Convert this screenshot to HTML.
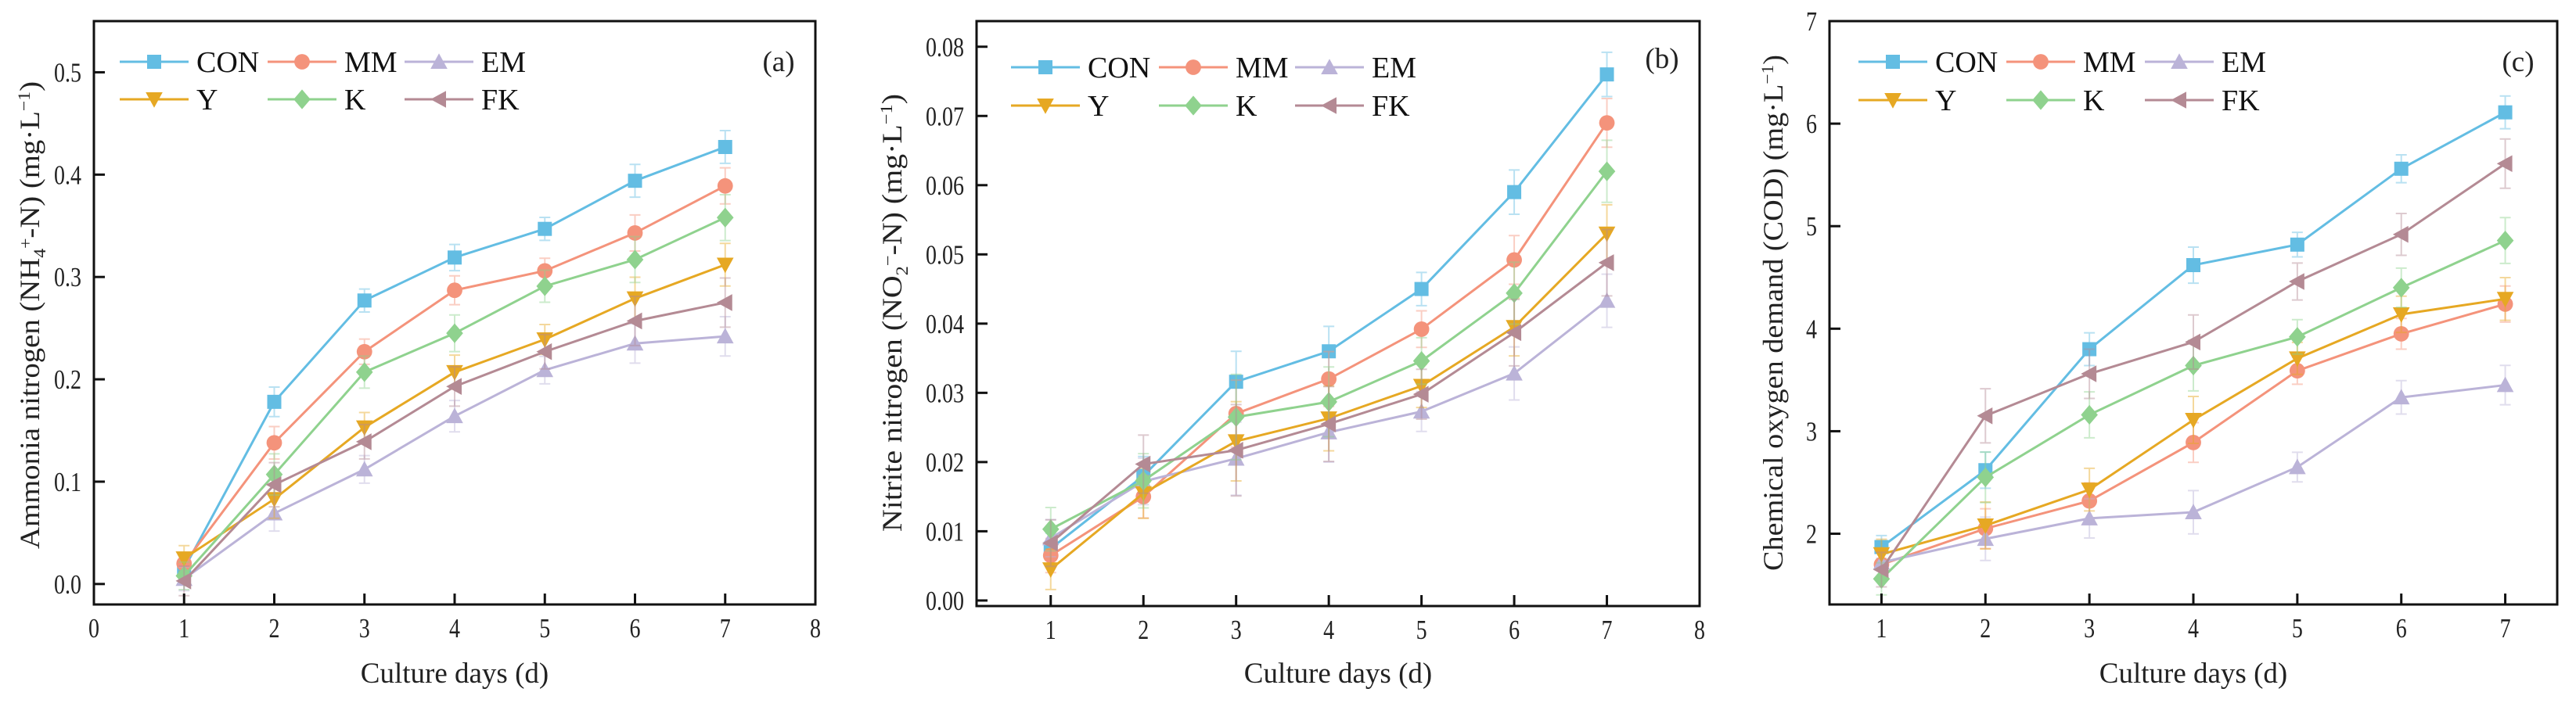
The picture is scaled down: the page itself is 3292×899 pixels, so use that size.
<!DOCTYPE html>
<html><head><meta charset="utf-8">
<style>
html,body{margin:0;padding:0;background:#fff;}
svg{display:block;font-family:"Liberation Serif",serif;}
</style></head>
<body>
<svg id="fig" width="3292" height="899" viewBox="0 0 3292 899" xmlns="http://www.w3.org/2000/svg"></svg>
<script>
const days = [1,2,3,4,5,6,7];
const seriesNames = ["CON","MM","EM","Y","K","FK"];
// Panel (a) ammonia nitrogen
const aCON = [0.015,0.178,0.277,0.319,0.347,0.394,0.427];
const aMM  = [0.020,0.138,0.227,0.287,0.306,0.343,0.389];
const aEM  = [0.005,0.069,0.112,0.164,0.209,0.235,0.242];
const aY   = [0.025,0.083,0.153,0.207,0.239,0.279,0.312];
const aK   = [0.008,0.107,0.207,0.245,0.291,0.317,0.358];
const aFK  = [0.003,0.097,0.139,0.193,0.227,0.257,0.275];
const aErr = [0.012,0.018,0.014,0.016,0.014,0.020,0.020];
const aTicks = ["0.0","0.1","0.2","0.3","0.4","0.5"];
const aXTicks = ["0","1","2","3","4","5","6","7","8"];
// Panel (b) nitrite nitrogen
const bCON = [0.0075,0.0180,0.0316,0.0360,0.0450,0.0590,0.0760];
const bMM  = [0.0065,0.0150,0.0270,0.0320,0.0392,0.0492,0.0690];
const bEM  = [0.0090,0.0172,0.0205,0.0243,0.0273,0.0328,0.0433];
const bY   = [0.0045,0.0155,0.0230,0.0263,0.0310,0.0395,0.0530];
const bK   = [0.0103,0.0173,0.0265,0.0287,0.0346,0.0444,0.0620];
const bFK  = [0.0083,0.0197,0.0217,0.0255,0.0298,0.0387,0.0488];
const bErr = [0.0028,0.0035,0.0055,0.0045,0.0030,0.0040,0.0040];
const bTicks = ["0.00","0.01","0.02","0.03","0.04","0.05","0.06","0.07","0.08"];
const bXTicks = ["1","2","3","4","5","6","7","8"];
// Panel (c) COD
const cCON = [1.87,2.62,3.80,4.62,4.82,5.56,6.11];
const cMM  = [1.70,2.05,2.32,2.89,3.59,3.95,4.24];
const cEM  = [1.72,1.95,2.15,2.21,2.65,3.33,3.45];
const cY   = [1.80,2.08,2.43,3.11,3.71,4.14,4.29];
const cK   = [1.56,2.55,3.16,3.64,3.92,4.40,4.86];
const cFK  = [1.65,3.15,3.56,3.87,4.46,4.92,5.61];
const cErr = [0.14,0.22,0.20,0.22,0.15,0.17,0.20];
const cTicks = ["2","3","4","5","6","7"];
const cXTicks = ["1","2","3","4","5","6","7"];

const colors = {CON:"#63BDE3",MM:"#F4937B",EM:"#BBB3D8",Y:"#E6A823",K:"#8FD28E",FK:"#B48A94"};
const NS="http://www.w3.org/2000/svg";
const svg=document.getElementById('fig');
function mk(tag,attrs,parent){const e=document.createElementNS(NS,tag);for(const k in attrs)e.setAttribute(k,attrs[k]);(parent||svg).appendChild(e);return e;}

function marker(g,name,x,y,s){
  const c=colors[name];let e;
  if(name==="CON") e=mk('rect',{x:x-s,y:y-s,width:2*s,height:2*s,fill:c},g);
  else if(name==="MM") e=mk('circle',{cx:x,cy:y,r:s*1.1,fill:c},g);
  else if(name==="EM") e=mk('polygon',{points:`${x},${y-s*1.2} ${x+s*1.2},${y+s} ${x-s*1.2},${y+s}`,fill:c},g);
  else if(name==="Y") e=mk('polygon',{points:`${x-s*1.2},${y-s} ${x+s*1.2},${y-s} ${x},${y+s*1.2}`,fill:c},g);
  else if(name==="K") e=mk('polygon',{points:`${x},${y-s*1.4} ${x+s*1.2},${y} ${x},${y+s*1.4} ${x-s*1.2},${y}`,fill:c},g);
  else e=mk('polygon',{points:`${x-s*1.2},${y} ${x+s},${y-s*1.2} ${x+s},${y+s*1.2}`,fill:c},g);
  
  
  return e;
}

function panel(cfg){
  const g=mk('g',{});
  
  
  const X=v=>cfg.L+(v-cfg.x0)/(cfg.x1-cfg.x0)*(cfg.R-cfg.L);
  const Y=v=>cfg.B-(v-cfg.y0)/(cfg.y1-cfg.y0)*(cfg.B-cfg.T);
  cfg.series.forEach((vals,si)=>{
    const name=seriesNames[si];const c=colors[name];
    const sg=mk('g',{},g);
    
    
    vals.forEach((v,i)=>{
      const x=X(days[i]),e=cfg.err[i]*(0.8+0.08*si);
      const eb=mk('path',{d:`M${x},${Y(v-e)}V${Y(v+e)}M${x-7},${Y(v-e)}H${x+7}M${x-7},${Y(v+e)}H${x+7}`,stroke:c,'stroke-width':2,fill:'none',opacity:0.45},sg);
      
      
    });
    const pts=vals.map((v,i)=>X(days[i])+','+Y(v)).join(' ');
    const pl=mk('polyline',{points:pts,fill:'none',stroke:c,'stroke-width':3},sg);
    
    
    vals.forEach((v,i)=>marker(sg,name,X(days[i]),Y(v),9));
  });
  const fr=mk('rect',{x:cfg.L,y:cfg.T,width:cfg.R-cfg.L,height:cfg.B-cfg.T,fill:'none',stroke:'#111','stroke-width':3},g);
  
  
  cfg.yticks.forEach(t=>{
    const y=Y(parseFloat(t));
    mk('line',{x1:cfg.L,x2:cfg.L+14,y1:y,y2:y,stroke:'#111','stroke-width':3},g);
    const tx=mk('text',{x:0,y:0,'text-anchor':'end','font-size':35,fill:'#222',transform:`translate(${cfg.L-16},${y+12}) scale(0.8,1)`},g);
    tx.textContent=t;
    
    
  });
  cfg.xticks.forEach(t=>{
    const x=X(parseFloat(t));
    if(x>cfg.L+2&&x<cfg.R-2) mk('line',{x1:x,x2:x,y1:cfg.B,y2:cfg.B-14,stroke:'#111','stroke-width':3},g);
    const tx=mk('text',{x:0,y:0,'text-anchor':'middle','font-size':35,fill:'#222',transform:`translate(${x},${cfg.B+42}) scale(0.8,1)`},g);
    tx.textContent=t;
    
    
  });
  const xt=mk('text',{x:(cfg.L+cfg.R)/2+cfg.xtOff,y:873,'text-anchor':'middle','font-size':37,fill:'#222'},g);
  xt.textContent='Culture days (d)';
  
  
  const yt=mk('text',{x:0,y:0,'text-anchor':'middle','font-size':36,fill:'#222',transform:`translate(${cfg.ytx},${cfg.yty}) rotate(-90)`,textLength:cfg.ytLen,lengthAdjust:'spacingAndGlyphs'},g);
  yt.innerHTML=cfg.ytitle;
  
  
  const lab=mk('text',{x:cfg.labX,y:cfg.labY,'text-anchor':'middle','font-size':37,fill:'#222'},g);
  lab.textContent='('+cfg.id+')';
  
  
  const lg=mk('g',{},g);
  
  
  seriesNames.forEach((n,i)=>{
    const col=i%3,row=Math.floor(i/3);
    const x0=cfg.legX[col],y=cfg.legY[row];
    const eg=mk('g',{},lg);
    
    
    mk('line',{x1:x0,x2:x0+88,y1:y,y2:y,stroke:colors[n],'stroke-width':3},eg);
    marker(eg,n,x0+44,y,9);
    const t=mk('text',{x:x0+98,y:y+13,'font-size':38,fill:'#111'},eg);
    t.textContent=n;
  });
}

panel({id:'a',L:120,R:1042,T:27,B:773,x0:0,x1:8,y0:-0.02,y1:0.55,
  series:[aCON,aMM,aEM,aY,aK,aFK],err:aErr,yticks:aTicks,xticks:aXTicks,
  ytitle:'Ammonia nitrogen (NH<tspan font-size="22" dy="8">4</tspan><tspan font-size="22" dy="-18">+</tspan><tspan dy="10">-N) (mg·L</tspan><tspan font-size="22" dy="-12">−1</tspan><tspan dy="12">)</tspan>',
  ytx:50,yty:403,ytLen:598,xtOff:0,labX:995,labY:91,legX:[153,342,517],legY:[79,127]});
panel({id:'b',L:1248,R:2172,T:27,B:775,x0:0.2,x1:8,y0:-0.0008,y1:0.0837,
  series:[bCON,bMM,bEM,bY,bK,bFK],err:bErr,yticks:bTicks,xticks:bXTicks,
  ytitle:'Nitrite nitrogen (NO<tspan font-size="22" dy="8">2</tspan><tspan font-size="22" dy="-18">−</tspan><tspan dy="10">-N) (mg·L</tspan><tspan font-size="22" dy="-12">−1</tspan><tspan dy="12">)</tspan>',
  ytx:1152,yty:400,ytLen:560,xtOff:0,labX:2124,labY:87,legX:[1292,1481,1655],legY:[86,135]});
panel({id:'c',L:2338,R:3268,T:27,B:773,x0:0.5,x1:7.5,y0:1.31,y1:7,
  series:[cCON,cMM,cEM,cY,cK,cFK],err:cErr,yticks:cTicks,xticks:cXTicks,
  ytitle:'Chemical oxygen demand (COD) (mg·L<tspan font-size="22" dy="-12">−1</tspan><tspan dy="12">)</tspan>',
  ytx:2278,yty:400,ytLen:660,xtOff:0,labX:3218,labY:91,legX:[2375,2564,2741],legY:[79,128]});
</script>
</body></html>
